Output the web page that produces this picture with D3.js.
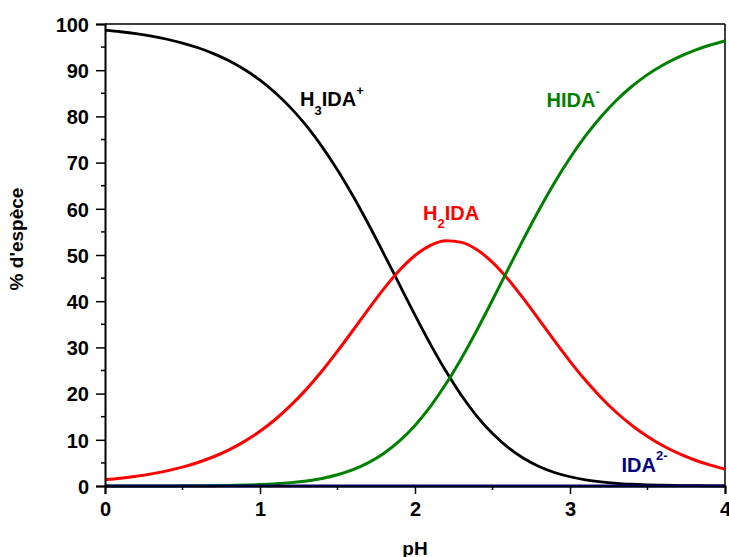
<!DOCTYPE html>
<html>
<head>
<meta charset="utf-8">
<script src="https://cdn.jsdelivr.net/npm/d3@7/dist/d3.min.js"></script>
<style>
  html, body { margin: 0; padding: 0; background: #fff; }
  svg { display: block; }
  text { font-family: "Liberation Sans", Arial, sans-serif; font-weight: bold; }
</style>
</head>
<body>
<svg id="chart" width="729" height="557"></svg>
<script>
// pH values (x)
const pH = [0.0,0.1,0.2,0.3,0.4,0.5,0.6,0.7,0.8,0.9,1.0,1.1,1.2,1.3,1.4,1.5,1.6,1.7,1.8,1.9,2.0,
            2.1,2.2,2.3,2.4,2.5,2.6,2.7,2.8,2.9,3.0,3.1,3.2,3.3,3.4,3.5,3.6,3.7,3.8,3.9,4.0];
// % of species
const H3IDA = [98.67,98.32,97.90,97.37,96.70,95.88,94.85,93.59,92.04,90.14,87.84,85.07,81.79,77.93,73.46,68.40,62.76,56.65,50.19,43.57,36.99,
               30.67,24.82,19.59,15.09,11.35,8.34,6.00,4.23,2.93,2.00,1.35,0.90,0.59,0.39,0.25,0.16,0.10,0.07,0.04,0.03];
const H2IDA = [1.33,1.67,2.09,2.62,3.28,4.09,5.09,6.33,7.83,9.66,11.85,14.45,17.49,20.97,24.89,29.18,33.71,38.30,42.72,46.68,49.89,
               52.08,53.06,52.73,51.13,48.40,44.78,40.55,36.01,31.42,26.99,22.88,19.17,15.91,13.10,10.71,8.70,7.04,5.68,4.57,3.66];
const HIDA  = [0.00,0.01,0.01,0.01,0.02,0.03,0.05,0.08,0.13,0.20,0.31,0.48,0.73,1.10,1.64,2.43,3.53,5.05,7.09,9.75,13.12,
               17.25,22.12,27.67,33.78,40.26,46.89,53.45,59.76,65.65,71.00,75.77,79.93,83.50,86.52,89.04,91.13,92.85,94.25,95.39,96.31];
const IDA   = [0,0,0,0,0,0,0,0,0,0,0,0,0,0,0,0,0,0,0,0,0,
               0,0,0,0,0,0,0,0,0,0,0,0,0,0,0,0,0,0,0,0];

const xTicks = [0, 1, 2, 3, 4];
const yTicks = [0, 10, 20, 30, 40, 50, 60, 70, 80, 90, 100];
const xMinor = [0.5, 1.5, 2.5, 3.5];
const yMinor = [5, 15, 25, 35, 45, 55, 65, 75, 85, 95];

const seriesList = [
  { name: "H3IDA", values: H3IDA, color: "#000000", width: 2.8 },
  { name: "H2IDA", values: H2IDA, color: "#ff0000", width: 3 },
  { name: "HIDA",  values: HIDA,  color: "#008000", width: 3 },
  { name: "IDA",   values: IDA,   color: "#000080", width: 3 }
];

const svg = d3.select("#chart");
const m = { left: 105, top: 24, right: 4, bottom: 71 };
const W = 729 - m.left - m.right;   // 620
const H = 557 - m.top - m.bottom;   // 462

const x = d3.scaleLinear().domain([0, 4]).range([0, W]);
const y = d3.scaleLinear().domain([0, 100]).range([H, 0]);

const g = svg.append("g").attr("transform", `translate(${m.left},${m.top})`);

// frame (top & right)
g.append("line").attr("x1", 0).attr("x2", W).attr("y1", 0).attr("y2", 0)
  .attr("stroke", "#000").attr("stroke-width", 1.5);
g.append("line").attr("x1", W).attr("x2", W).attr("y1", 0).attr("y2", H)
  .attr("stroke", "#000").attr("stroke-width", 1.5);

// curves
const line = d3.line()
  .x((d, i) => x(pH[i]))
  .y(d => y(d))
  .curve(d3.curveMonotoneX);

seriesList.forEach(s => {
  g.append("path")
    .datum(s.values)
    .attr("fill", "none")
    .attr("stroke", s.color)
    .attr("stroke-width", s.width)
    .attr("stroke-linejoin", "round")
    .attr("d", line);
});

// axes
const xAxis = d3.axisBottom(x).tickValues(xTicks).tickFormat(d3.format("d")).tickSize(8).tickPadding(8);
const yAxis = d3.axisLeft(y).tickValues(yTicks).tickFormat(d3.format("d")).tickSize(9).tickPadding(7);

const gx = g.append("g").attr("transform", `translate(0,${H})`).call(xAxis);
const gy = g.append("g").call(yAxis);

[gx, gy].forEach(a => {
  a.select(".domain").attr("stroke", "#000").attr("stroke-width", 2);
  a.selectAll(".tick line").attr("stroke", "#000").attr("stroke-width", 1.5);
  a.selectAll(".tick text").attr("fill", "#000")
    .style("font-size", "20px").style("font-family", "'Liberation Sans', Arial, sans-serif").style("font-weight", "bold");
});
gy.selectAll(".tick text").attr("dy", "0.36em");

// minor ticks
g.append("g").selectAll("line").data(xMinor).join("line")
  .attr("x1", d => x(d)).attr("x2", d => x(d))
  .attr("y1", H).attr("y2", H + 4)
  .attr("stroke", "#000").attr("stroke-width", 1.5);
g.append("g").selectAll("line").data(yMinor).join("line")
  .attr("x1", -4).attr("x2", 0)
  .attr("y1", d => y(d)).attr("y2", d => y(d))
  .attr("stroke", "#000").attr("stroke-width", 1.5);

// axis titles
svg.append("text")
  .attr("x", m.left + W / 2).attr("y", 555)
  .attr("text-anchor", "middle")
  .style("font-size", "19px")
  .text("pH");

svg.append("text")
  .attr("transform", "translate(23,239) rotate(-90)")
  .attr("text-anchor", "middle")
  .style("font-size", "19px")
  .text("% d'espèce");

// species labels
function label(xp, yp, color, parts) {
  const t = svg.append("text").attr("x", xp).attr("y", yp).attr("fill", color).style("font-size", "20px");
  let shift = 0;
  parts.forEach(p => {
    const dy = p.dy - shift;
    shift = p.dy;
    t.append("tspan").attr("dy", dy).style("font-size", p.size + "px").text(p.text);
  });
}

label(300, 106, "#000000", [
  { text: "H", dy: 0, size: 20 },
  { text: "3", dy: 9, size: 13 },
  { text: "IDA", dy: 0, size: 20 },
  { text: "+", dy: -11, size: 13 }
]);
label(546.5, 106.5, "#008000", [
  { text: "HIDA", dy: 0, size: 20 },
  { text: "-", dy: -11, size: 13 }
]);
label(423, 220, "#ff0000", [
  { text: "H", dy: 0, size: 20 },
  { text: "2", dy: 8, size: 13 },
  { text: "IDA", dy: 0, size: 20 }
]);
label(621.5, 471.5, "#000080", [
  { text: "IDA", dy: 0, size: 20 },
  { text: "2-", dy: -12, size: 13 }
]);
</script>
</body>
</html>
